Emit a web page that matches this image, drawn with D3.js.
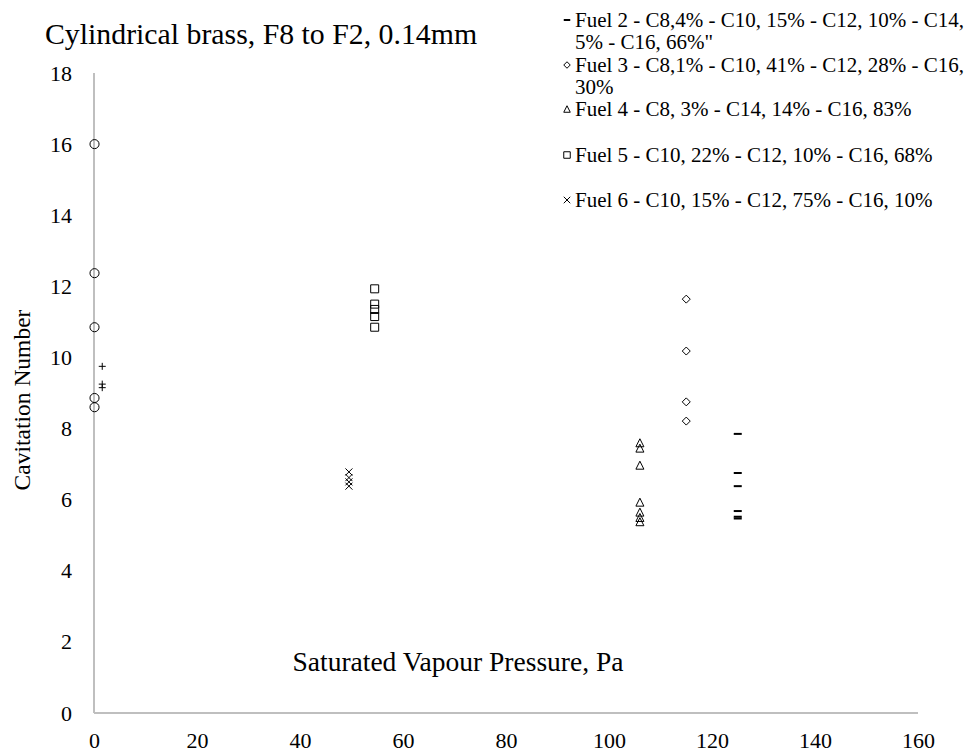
<!DOCTYPE html>
<html><head><meta charset="utf-8">
<script src="https://cdn.jsdelivr.net/npm/d3@7"></script>
<style>body{margin:0;background:#fff}svg{display:block}</style>
</head><body>
<svg id="c" width="974" height="754"></svg>
<script>
const title = "Cylindrical brass, F8 to F2, 0.14mm";
const xTitle = "Saturated Vapour Pressure, Pa";
const yTitle = "Cavitation Number";
const xTicks = [0,20,40,60,80,100,120,140,160];
const yTicks = [0,2,4,6,8,10,12,14,16,18];

const fuel1X = [0.1,0.1,0.1,0.1,0.1];
const fuel1Y = [16.0,12.37,10.85,8.86,8.6];
const fuelPX = [1.6,1.6,1.6];
const fuelPY = [9.75,9.25,9.15];
const fuel2X = [125,125,125,125,125,125];
const fuel2Y = [7.85,6.75,6.38,5.68,5.52,5.47];
const fuel3X = [115,115,115,115];
const fuel3Y = [11.64,10.18,8.75,8.21];
const fuel4X = [106,106,106,106,106,106,106];
const fuel4Y = [7.6,7.45,6.97,5.93,5.65,5.5,5.38];
const fuel5X = [54.5,54.5,54.5,54.5,54.5];
const fuel5Y = [11.93,11.5,11.35,11.15,10.85];
const fuel6X = [49.5,49.5,49.5,49.5];
const fuel6Y = [6.78,6.62,6.5,6.38];

const legendLabels = [
  ["Fuel 2 - C8,4% - C10, 15% - C12, 10% - C14,", "5% - C16, 66%\""],
  ["Fuel 3 - C8,1% - C10, 41% - C12, 28% - C16,", "30%"],
  ["Fuel 4 - C8, 3% - C14, 14% - C16, 83%"],
  ["Fuel 5 - C10, 22% - C12, 10% - C16, 68%"],
  ["Fuel 6 - C10, 15% - C12, 75% - C16, 10%"]
];

const svg = d3.select("#c");
const font = "'Liberation Serif','Times New Roman',serif";
const x = d3.scaleLinear().domain([0,160]).range([94,918]);
const y = d3.scaleLinear().domain([0,18]).range([713,73]);

svg.append("line").attr("x1",x(0)).attr("x2",x(160)).attr("y1",y(0)).attr("y2",y(0)).attr("stroke","#bfbfbf").attr("stroke-width",2);
svg.append("line").attr("x1",x(0)).attr("x2",x(0)).attr("y1",y(18)).attr("y2",y(0)).attr("stroke","#bfbfbf").attr("stroke-width",2);

const xa = svg.append("g").attr("transform",`translate(0,${y(0)})`)
  .call(d3.axisBottom(x).tickValues(xTicks).tickSize(0).tickPadding(19));
const ya = svg.append("g").attr("transform",`translate(${x(0)},0)`)
  .call(d3.axisLeft(y).tickValues(yTicks).tickSize(0).tickPadding(22));
[xa,ya].forEach(a=>{a.select(".domain").remove();
  a.selectAll("text").attr("font-family",font).attr("font-size",22).attr("fill","#000");});

svg.append("text").attr("x",45).attr("y",44).attr("font-family",font).attr("font-size",29.8).text(title);
svg.append("text").attr("x",458).attr("y",671).attr("text-anchor","middle").attr("font-family",font).attr("font-size",27.5).text(xTitle);
svg.append("text").attr("transform","translate(30,400) rotate(-90)").attr("text-anchor","middle").attr("font-family",font).attr("font-size",23.5).text(yTitle);

function marker(g, type, s){
  const p = g.append("path").attr("fill","none").attr("stroke","#000").attr("stroke-width",1);
  if(type==="circle") p.attr("d", d3.symbol(d3.symbolCircle, s*s*0.8)());
  else if(type==="square") p.attr("d", `M${-s/2},${-s/2}h${s}v${s}h${-s}Z`);
  else if(type==="diamond") p.attr("d", `M0,${-s/2}L${s/2},0L0,${s/2}L${-s/2},0Z`);
  else if(type==="triangle") p.attr("d", `M0,${-s/2}L${s/2},${s/2}L${-s/2},${s/2}Z`);
  else if(type==="x") p.attr("d", `M${-s/2},${-s/2}L${s/2},${s/2}M${s/2},${-s/2}L${-s/2},${s/2}`);
  else if(type==="plus") p.attr("d", `M${-s/2},0H${s/2}M0,${-s/2}V${s/2}`);
  else if(type==="dash") p.attr("d", `M${-s/2},0H${s/2}`).attr("stroke-width",2);
}

const series = [
  {xs:fuel1X, ys:fuel1Y, t:"circle", s:9},
  {xs:fuelPX, ys:fuelPY, t:"plus", s:7},
  {xs:fuel2X, ys:fuel2Y, t:"dash", s:8},
  {xs:fuel3X, ys:fuel3Y, t:"diamond", s:8},
  {xs:fuel4X, ys:fuel4Y, t:"triangle", s:8},
  {xs:fuel5X, ys:fuel5Y, t:"square", s:8},
  {xs:fuel6X, ys:fuel6Y, t:"x", s:7}
];
series.forEach(se=>{
  se.ys.forEach((v,i)=>{
    const g = svg.append("g").attr("transform",`translate(${x(se.xs[i])},${y(v)})`);
    marker(g, se.t, se.s);
  });
});

const legTypes = ["dash","diamond","triangle","square","x"];
const legY = [20,65,109,155,200];
legendLabels.forEach((lines,i)=>{
  const g = svg.append("g").attr("transform",`translate(567,${legY[i]})`);
  marker(g, legTypes[i], 6.5);
  lines.forEach((l,j)=>{
    g.append("text").attr("x",8).attr("y",7+j*22).attr("font-family",font).attr("font-size",21).text(l);
  });
});
</script>
</body></html>
